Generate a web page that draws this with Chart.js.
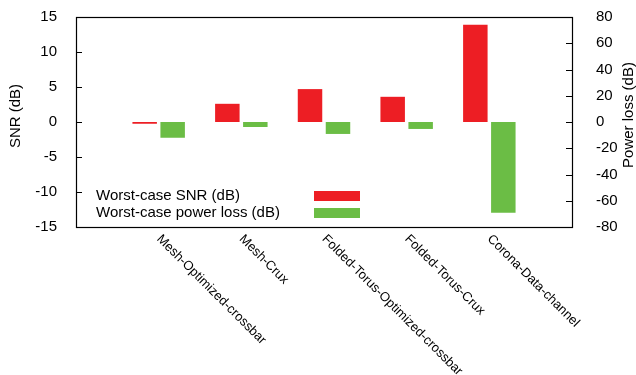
<!DOCTYPE html>
<html>
<head>
<meta charset="utf-8">
<script src="https://cdn.jsdelivr.net/npm/chart.js@4"></script>
<style>
  html, body { margin: 0; padding: 0; background: #fff; }
  #wrap { width: 636px; height: 375px; }
</style>
</head>
<body>
<div id="wrap"><canvas id="chart-1" width="636" height="375"></canvas></div>
<script>
const categories = [
  'Mesh-Optimized-crossbar',
  'Mesh-Crux',
  'Folded-Torus-Optimized-crossbar',
  'Folded-Torus-Crux',
  'Corona-Data-channel'
];
const snrValues = [-0.25, 2.6, 4.7, 3.6, 13.9];
const powerLossValues = [-12.0, -3.8, -9.1, -5.3, -69.1];
const snrTicks = [-15, -10, -5, 0, 5, 10, 15];
const powerTicks = [-80, -60, -40, -20, 0, 20, 40, 60, 80];

const FONT = '"Liberation Sans", Arial, Helvetica, sans-serif';
const RED = 'rgb(237, 30, 36)';
const GREEN = 'rgb(107, 189, 69)';

// gnuplot-ish frame, inward ticks, titles, legend and slanted labels
const decorations = {
  id: 'decorations',
  afterDraw(chart) {
    const c = chart.ctx;
    const a = chart.chartArea;
    const y = chart.scales.y, y1 = chart.scales.y1, x = chart.scales.x;
    c.save();
    c.strokeStyle = '#000';
    c.lineWidth = 1.2;
    c.strokeRect(a.left + 0.5, a.top + 0.5, a.right - a.left, a.bottom - a.top);

    c.lineWidth = 1;
    c.beginPath();
    snrTicks.forEach(v => {
      const py = Math.round(y.getPixelForValue(v)) + 0.5;
      c.moveTo(a.left, py); c.lineTo(a.left + 6, py);
    });
    powerTicks.forEach(v => {
      const py = Math.round(y1.getPixelForValue(v)) + 0.5;
      c.moveTo(a.right, py); c.lineTo(a.right - 6, py);
    });
    c.stroke();

    c.fillStyle = '#000';
    c.font = '15px ' + FONT;
    c.textAlign = 'center';
    c.textBaseline = 'middle';
    c.save();
    c.translate(16, 116);
    c.rotate(-Math.PI / 2);
    c.fillText('SNR (dB)', 0, 0);
    c.restore();
    c.save();
    c.translate(629, 115);
    c.rotate(-Math.PI / 2);
    c.fillText('Power loss (dB)', 0, 0);
    c.restore();

    // legend
    c.textAlign = 'left';
    chart.data.datasets.forEach((ds, i) => {
      const ly = 196 + i * 17;
      c.fillStyle = '#000';
      c.fillText(ds.label, 96, ly);
      c.fillStyle = ds.backgroundColor;
      c.fillRect(314, ly - 5, 46, 10);
    });

    // slanted category labels
    c.fillStyle = '#000';
    c.font = '13px ' + FONT;
    categories.forEach((name, i) => {
      const px = x.getPixelForValue(i + 1);
      c.save();
      c.translate(px, a.bottom + 10);
      c.rotate(Math.PI / 4);
      c.fillText(name, 0, 0);
      c.restore();
    });
    c.restore();
  }
};

function noPad(s) {
  s.paddingTop = 0;
  s.paddingBottom = 0;
}

const ctx1 = document.getElementById('chart-1').getContext('2d');
const myChart = new Chart(ctx1, {
  type: 'bar',
  data: {
    datasets: [
      {
        label: 'Worst-case SNR (dB)',
        data: snrValues.map((v, i) => ({ x: i + 1, y: v })),
        backgroundColor: RED,
        yAxisID: 'y',
        categoryPercentage: 0.677,
        barPercentage: 0.875
      },
      {
        label: 'Worst-case power loss (dB)',
        data: powerLossValues.map((v, i) => ({ x: i + 1, y: v })),
        backgroundColor: GREEN,
        yAxisID: 'y1',
        categoryPercentage: 0.677,
        barPercentage: 0.875
      }
    ]
  },
  options: {
    responsive: false,
    animation: false,
    layout: { padding: { top: 17, left: 0, right: 0, bottom: 0 } },
    plugins: { legend: { display: false }, tooltip: { enabled: false } },
    scales: {
      x: {
        type: 'linear',
        min: 0,
        max: 6,
        offset: false,
        ticks: { display: false, stepSize: 1 },
        grid: { display: false, offset: false },
        border: { display: false },
        afterFit(s) { s.height = 148; }
      },
      y: {
        position: 'left',
        min: -15,
        max: 15,
        afterBuildTicks(s) { s.ticks = snrTicks.map(v => ({ value: v })); },
        ticks: { color: '#000', padding: 11, font: { family: FONT, size: 15 } },
        grid: { display: false },
        border: { display: false },
        afterFit(s) { s.width = 76; noPad(s); }
      },
      y1: {
        position: 'right',
        min: -80,
        max: 80,
        afterBuildTicks(s) { s.ticks = powerTicks.map(v => ({ value: v })); },
        ticks: { color: '#000', padding: 16, font: { family: FONT, size: 15 } },
        grid: { display: false },
        border: { display: false },
        afterFit(s) { s.width = 64; noPad(s); }
      }
    }
  },
  plugins: [decorations]
});
</script>
</body>
</html>
